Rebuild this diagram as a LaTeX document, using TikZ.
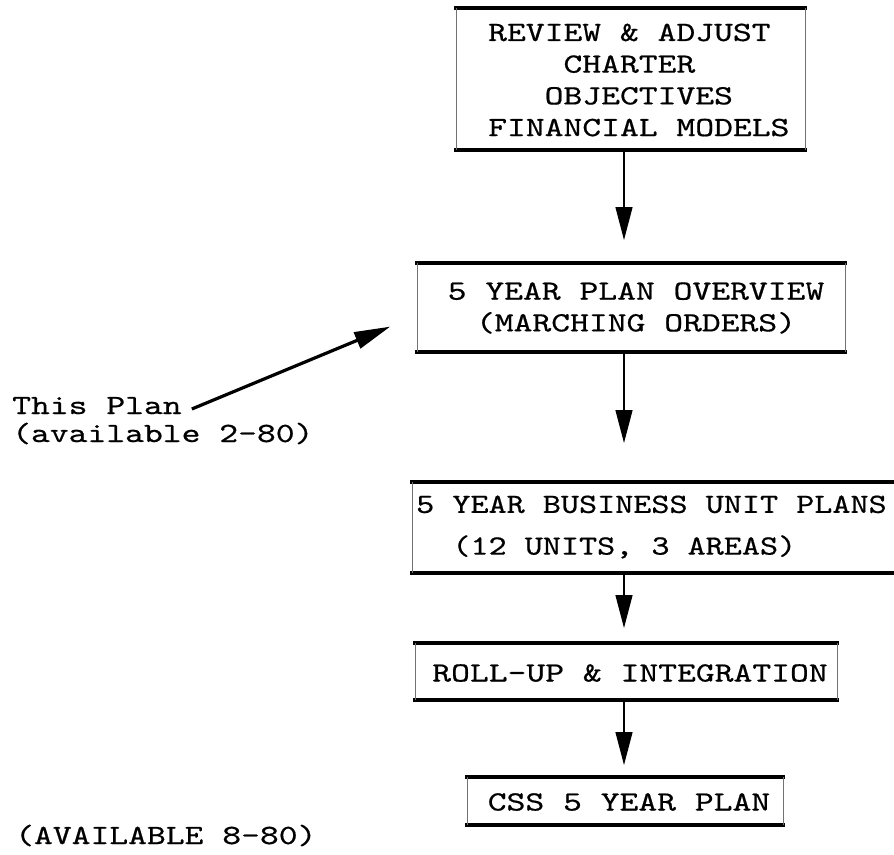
\documentclass[tikz,border=0pt]{standalone}
\usepackage{fontspec}
\newfontfamily\typer{lmmono10-regular.otf}[FakeStretch=1.29,FakeBold=0.6]
\newfontfamily\typernarrow{lmmono10-regular.otf}[FakeStretch=1.24,FakeBold=0.6]
\usetikzlibrary{arrows.meta,calc}

% thick rules on top and bottom, faint sides
\newcommand\panellines[1]{%
  \draw[rule] ([xshift=-2pt]#1.north west) -- ([xshift=2pt]#1.north east);
  \draw[rule] ([xshift=-2pt]#1.south west) -- ([xshift=2pt]#1.south east);
  \draw[side] (#1.north west) -- (#1.south west);
  \draw[side] (#1.north east) -- (#1.south east);}

\begin{document}
\begin{tikzpicture}[x=1pt,y=-1pt,
  rule/.style={line width=3.4pt},
  side/.style={line width=0.9pt,black!55},
  panel/.style={inner sep=0pt,outer sep=0pt},
  txt/.style={inner sep=0pt,font=\typer\fontsize{27.8}{31.7}\selectfont},
  flow/.style={line width=1.3pt,-{Triangle[width=17pt,length=33pt]}},
  pointer/.style={line width=3.2pt,-{Triangle[width=17pt,length=36pt]}}]
\useasboundingbox (0,0) rectangle (894,854);

% boxes
\node[panel,minimum width=349pt,minimum height=142pt] (b1) at (630.5,79) {};
\node[panel,minimum width=428pt,minimum height=89pt]  (b2) at (631,307.5) {};
\node[panel,minimum width=482pt,minimum height=91pt]  (b3) at (653,527.5) {};
\node[panel,minimum width=422pt,minimum height=57pt]  (b4) at (626,671.5) {};
\node[panel,minimum width=316pt,minimum height=48pt]  (b5) at (625,801) {};

\panellines{b1}
\panellines{b2}
\panellines{b4}
\panellines{b5}
\draw[rule] ([xshift=-2pt]b3.north west) -- (b3.north east);
\draw[rule] ([xshift=-2pt]b3.south west) -- (b3.south east);
\draw[side] (b3.north west) -- (b3.south west);

% box texts
\node[txt,align=left,anchor=west] (t1) at (488,80) {REVIEW \& ADJUST\\
\phantom{0000}CHARTER\\
\phantom{000}OBJECTIVES\\
FINANCIAL MODELS};
\node[txt,align=center] (t2) at (636,308) {5 YEAR PLAN OVERVIEW\\(MARCHING ORDERS)};
\node[txt,font=\typernarrow\fontsize{27.8}{31.7}\selectfont,align=left,anchor=west]
  (t3) at (416,527) {5 YEAR BUSINESS UNIT PLANS\\[10pt]
\phantom{00}(12 UNITS, 3 AREAS)};
\node[txt] (t4) at (630,673) {ROLL-UP \& INTEGRATION};
\node[txt] (t5) at (629,802) {CSS 5 YEAR PLAN};

% side notes
\node[txt,anchor=base west] (plan) at (12,414) {This Plan};
\node[txt,anchor=base west] (avail) at (12,442) {(available 2-80)};
\node[txt,anchor=base west] (later) at (15,844) {(AVAILABLE 8-80)};

% flow connectors
\coordinate (spine) at (624,0);
\draw[flow,shorten >=23pt] (b1.south -| spine) -- (b2.north -| spine);
\draw[flow,shorten >=39pt] (b2.south -| spine) -- (b3.north -| spine);
\draw[flow,shorten >=15pt] (b3.south -| spine) -- (b4.north -| spine);
\draw[flow,shorten >=12pt] (b4.south -| spine) -- (b5.north -| spine);

% pointer to the overview
\draw[pointer,shorten >=29pt] ($(plan.base east)+(10,-5)$) -- ($(b2.west)+(0,8)$);
\end{tikzpicture}
\end{document}
